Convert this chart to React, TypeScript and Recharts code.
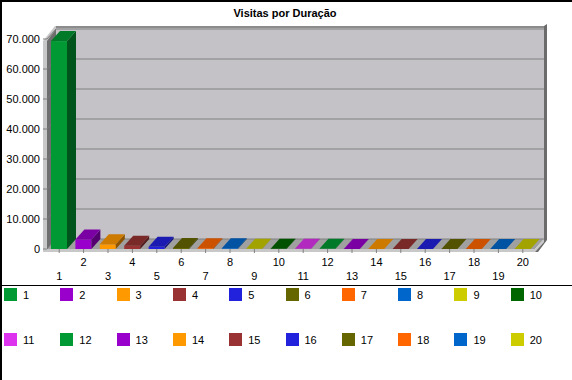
import React from 'react'
import { BarChart, Bar, XAxis, YAxis, CartesianGrid, Cell } from 'recharts'

const CATEGORIAS = ['1', '2', '3', '4', '5', '6', '7', '8', '9', '10', '11', '12', '13', '14', '15', '16', '17', '18', '19', '20']
const VISITAS = [69300, 3200, 1550, 1100, 750, 330, 250, 250, 100, 80, 60, 50, 40, 40, 30, 30, 25, 20, 20, 15]
const CORES = [
  '#009933', '#9900cc', '#ff9900', '#993333', '#2222dd', '#666600', '#ff6600', '#0066cc', '#cccc00', '#006600',
  '#dd33ee', '#009933', '#9900cc', '#ff9900', '#993333', '#2222dd', '#666600', '#ff6600', '#0066cc', '#cccc00',
]
const Y_TICKS = [0, 10000, 20000, 30000, 40000, 50000, 60000, 70000]
const TITULO = 'Visitas por Duração'

const data = CATEGORIAS.map((c, i) => ({ faixa: c, visitas: VISITAS[i] }))

// plot frame (front plane) and 3d depth
const W = 572
const CHART_H = 285
const PL = 47
const PT = 39
const PR = 535
const PB = 249
const DX = 9
const DY = -10
const Y_AXIS_W = 42
const X_AXIS_H = 30
const FONT = '"Liberation Sans", Arial, sans-serif'

function shade(hex: string, f: number) {
  const n = parseInt(hex.slice(1), 16)
  const r = Math.round(((n >> 16) & 255) * f)
  const g = Math.round(((n >> 8) & 255) * f)
  const b = Math.round((n & 255) * f)
  return `rgb(${r},${g},${b})`
}

function formatMil(v: number) {
  return String(v).replace(/\B(?=(\d{3})+(?!\d))/g, '.')
}

function Bar3D(props: any) {
  const { x, y, width, height, fill } = props
  const w = width
  const h = Math.max(height, 0)
  return (
    <g>
      <rect x={x} y={y} width={w} height={h} fill={fill} />
      <polygon
        points={`${x + w},${y} ${x + w + DX},${y + DY} ${x + w + DX},${y + h + DY} ${x + w},${y + h}`}
        fill={shade(fill, 0.55)}
      />
      <polygon
        points={`${x},${y} ${x + DX},${y + DY} ${x + w + DX},${y + DY} ${x + w},${y}`}
        fill={shade(fill, 0.8)}
      />
    </g>
  )
}

function XTick(props: any) {
  const { x, y, payload } = props
  const low = payload.index % 2 === 0
  return (
    <text x={x} y={y + (low ? 25 : 11)} textAnchor="middle" fontSize={11} fontFamily={FONT} fill="#000">
      {payload.value}
    </text>
  )
}

function GridLine(p: any) {
  const { x1, x2, y1 } = p
  return (
    <g key={p.key}>
      <line x1={x1} y1={y1} x2={x1 + DX} y2={y1 + DY} stroke="#7a7a7a" />
      <line x1={x1 + DX} y1={y1 + DY} x2={x2 + DX} y2={y1 + DY} stroke="#808080" />
    </g>
  )
}

function Walls() {
  const top = PT + DY - 2
  return (
    <svg width={W} height={380} style={{ position: 'absolute', left: 0, top: 0 }}>
      <rect x={0} y={0} width={2} height={380} fill="#000" />
      <rect x={0} y={0} width={W} height={2} fill="#000" />
      <rect x={0} y={285} width={W} height={1} fill="#000" />
      {/* back wall */}
      <rect x={PL + DX} y={top} width={PR - PL} height={PB + DY - top} fill="#c4c2c6" />
      <rect x={PL + DX} y={top - 1} width={PR - PL} height={2} fill="#8c8c8c" />
      {/* left wall */}
      <polygon points={`${PL - 4},${PB + 3} ${PL - 4},${PT + 2} ${PL + DX - 1},${top - 1} ${PL + DX},${top - 1} ${PL + DX},${PB + DY}`} fill="#c8c8c8" />
      <polygon points={`${PL},${PB} ${PL},${PT + 2} ${PL + DX},${top + 2} ${PL + DX},${PB + DY}`} fill="#6e6e6e" />
      {/* floor */}
      <polygon points={`${PL},${PB} ${PR},${PB} ${PR + DX},${PB + DY} ${PL + DX},${PB + DY}`} fill="#a0a0a0" />
      <rect x={PL - 4} y={PB} width={PR - PL + 4} height={3} fill="#c8c8c8" />
      <polygon points={`${PR},${PB} ${PR + DX},${PB + DY} ${PR + DX},${PB + DY + 3} ${PR},${PB + 3}`} fill="#c8c8c8" />
      {/* right wall */}
      <polygon
        points={`${PR + DX},${top - 1} ${PR + DX + 3},${top - 3} ${PR + DX + 3},${PB + DY + 1} ${PR + 3},${PB + 3} ${PR},${PB + 3} ${PR + DX},${PB + DY + 3}`}
        fill="#6b6b6b"
      />
      <text x={285} y={17} textAnchor="middle" fontSize={11} fontWeight="bold" fontFamily={FONT} fill="#000">
        {TITULO}
      </text>
    </svg>
  )
}

function Legenda() {
  return (
    <div style={{ position: 'absolute', left: 0, top: 0, width: W, height: 380, fontFamily: FONT, fontSize: 11 }}>
      {CATEGORIAS.map((c, i) => {
        const col = i % 10
        const row = Math.floor(i / 10)
        const left = 4 + col * 56.3
        const top = row === 0 ? 288 : 333
        return (
          <div key={c} style={{ position: 'absolute', left, top, height: 13, display: 'flex', alignItems: 'center' }}>
            <div style={{ width: 13, height: 13, background: CORES[i] }} />
            <span style={{ marginLeft: 6, color: '#000' }}>{c}</span>
          </div>
        )
      })}
    </div>
  )
}

export default function App() {
  return (
    <div style={{ position: 'relative', width: W, height: 380, background: '#fff', overflow: 'hidden' }}>
      <style>{'body{margin:0}'}</style>
      <Walls />
      <Legenda />
      <div style={{ position: 'absolute', left: 0, top: 0 }}>
        <BarChart
          width={W}
          height={CHART_H}
          data={data}
          barSize={16}
          margin={{ top: PT, right: W - PR, bottom: CHART_H - PB - X_AXIS_H, left: PL - Y_AXIS_W }}
        >
          <CartesianGrid vertical={false} horizontal={GridLine as any} />
          <XAxis
            dataKey="faixa"
            interval={0}
            height={X_AXIS_H}
            axisLine={false}
            tickLine={{ stroke: '#808080' }}
            tickSize={4}
            tickMargin={2}
            tick={<XTick />}
          />
          <YAxis
            width={Y_AXIS_W}
            domain={[0, 70000]}
            ticks={Y_TICKS}
            axisLine={false}
            tickLine={{ stroke: '#808080' }}
            tickSize={4}
            tickMargin={3}
            tickFormatter={formatMil}
            tick={{ fontSize: 11, fill: '#000', fontFamily: FONT }}
          />
          <Bar dataKey="visitas" shape={<Bar3D />} isAnimationActive={false}>
            {data.map((d, i) => (
              <Cell key={d.faixa} fill={CORES[i]} />
            ))}
          </Bar>
        </BarChart>
      </div>
    </div>
  )
}
